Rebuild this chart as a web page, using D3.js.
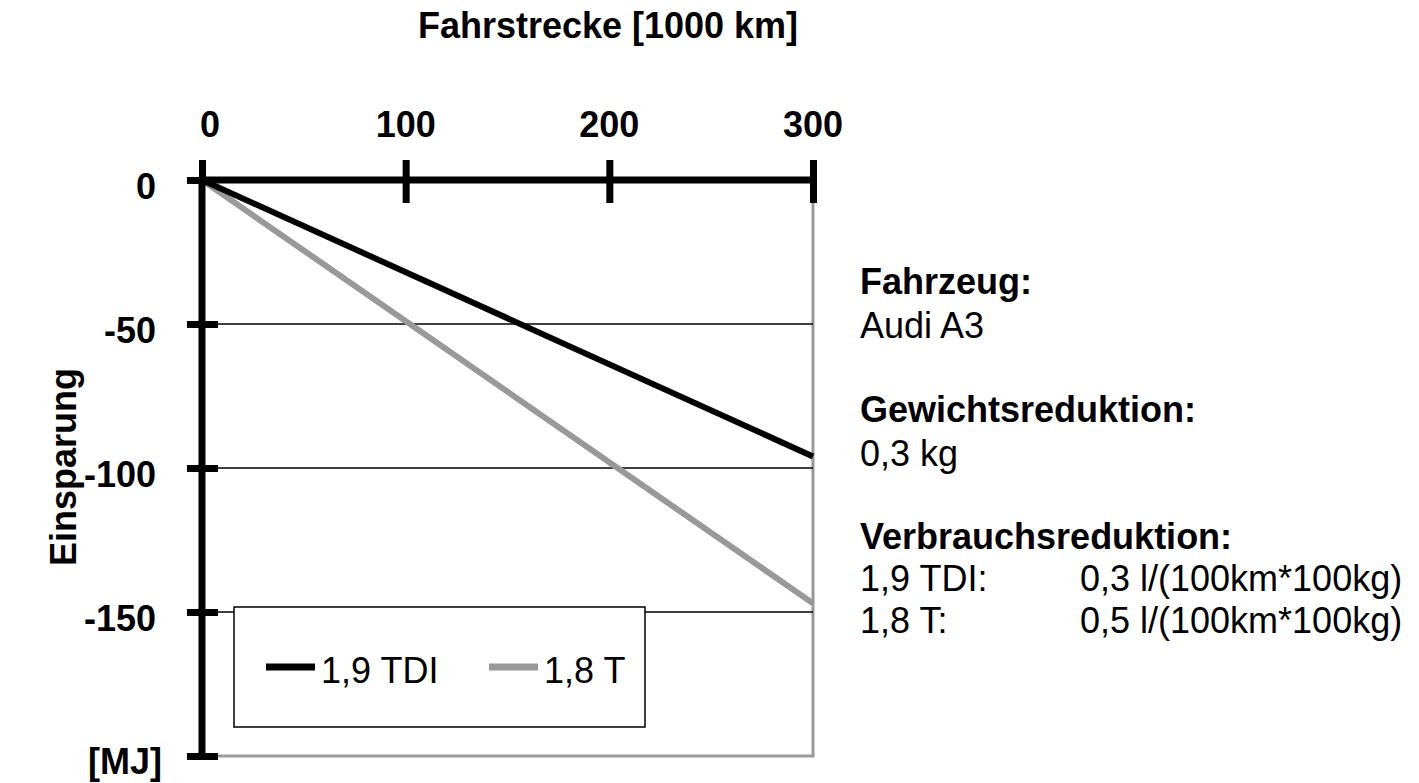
<!DOCTYPE html>
<html>
<head>
<meta charset="utf-8">
<script src="https://cdn.jsdelivr.net/npm/d3@7"></script>
<style>
  body { margin: 0; background: #fff; }
  text { font-family: "Liberation Sans", Arial, sans-serif; }
</style>
</head>
<body>
<script>
// data
var distances = [0, 300];            // 1000 km
var tdiValues = [0, -96];            // MJ
var turboValues = [0, -147];         // MJ
var seriesNames = ["1,9 TDI", "1,8 T"];
var seriesColors = ["#000000", "#999999"];
var xTicks = [0, 100, 200, 300];
var yTicks = [0, -50, -100, -150];

var width = 1419,
    height = 783;

var svg = d3.select("body").append("svg")
    .attr("width", width)
    .attr("height", height);

var x = d3.scaleLinear().domain([0, 300]).range([202, 813]);
var y = d3.scaleLinear().domain([0, -200]).range([180, 756]);

// plot border (grey, right + bottom)
svg.append("path")
    .attr("d", "M" + x(300) + "," + y(0) + "V" + y(-200) + "H" + x(0))
    .attr("fill", "none")
    .attr("stroke", "#999")
    .attr("stroke-width", 3);

// gridlines
svg.selectAll(".grid")
    .data(yTicks.filter(function(d) { return d !== 0; }))
    .enter().append("line")
    .attr("x1", x(0)).attr("x2", x(300))
    .attr("y1", function(d) { return y(d); })
    .attr("y2", function(d) { return y(d); })
    .attr("stroke", "#000")
    .attr("stroke-width", 1.5);

// series lines (grey one underneath)
var series = [tdiValues, turboValues];
var line = d3.line()
    .x(function(d, i) { return x(distances[i]); })
    .y(function(d) { return y(d); });

[1, 0].forEach(function(i) {
  svg.append("path")
      .datum(series[i])
      .attr("d", line)
      .attr("fill", "none")
      .attr("stroke", seriesColors[i])
      .attr("stroke-width", 6);
});

// y axis (left)
var yAxis = d3.axisLeft(y).tickValues(yTicks.concat([-200])).tickFormat("");
var gy = svg.append("g").attr("transform", "translate(" + x(0) + ",0)").call(yAxis);
gy.select(".domain").attr("stroke", "#000").attr("stroke-width", 7).attr("d", "M0," + y(0) + "V" + y(-200));
gy.selectAll(".tick line").attr("x1", -15).attr("x2", 16).attr("stroke", "#000").attr("stroke-width", 7);
gy.selectAll(".tick").filter(function(d) { return d === 0; }).select("line").attr("x2", 0);

// x axis (top)
var xAxis = d3.axisTop(x).tickValues(xTicks).tickFormat("");
var gx = svg.append("g").attr("transform", "translate(0," + y(0) + ")").call(xAxis);
gx.select(".domain").attr("stroke", "#000").attr("stroke-width", 7).attr("d", "M" + x(0) + ",0H" + x(300));
gx.selectAll(".tick line").attr("y1", -20).attr("y2", 23).attr("stroke", "#000").attr("stroke-width", 7);
gx.selectAll(".tick").filter(function(d) { return d === 0; }).select("line").attr("y2", 0);

// tick labels
svg.selectAll(".xlab")
    .data(xTicks)
    .enter().append("text")
    .attr("x", function(d) { return x(d) + (d === 0 ? 8 : 0); })
    .attr("y", 137)
    .attr("text-anchor", "middle")
    .attr("font-size", 36)
    .attr("font-weight", "bold")
    .text(function(d) { return d; });

svg.selectAll(".ylab")
    .data(yTicks)
    .enter().append("text")
    .attr("x", 156)
    .attr("y", function(d) { return y(d) + 19; })
    .attr("text-anchor", "end")
    .attr("font-size", 36)
    .attr("font-weight", "bold")
    .text(function(d) { return d; });

svg.append("text")
    .attr("x", 162).attr("y", 774)
    .attr("text-anchor", "end")
    .attr("font-size", 36)
    .attr("font-weight", "bold")
    .text("[MJ]");

// axis titles
svg.append("text")
    .attr("x", 608).attr("y", 38)
    .attr("text-anchor", "middle")
    .attr("font-size", 36)
    .attr("font-weight", "bold")
    .text("Fahrstrecke [1000 km]");

svg.append("text")
    .attr("transform", "translate(76,467) rotate(-90)")
    .attr("text-anchor", "middle")
    .attr("font-size", 36)
    .attr("font-weight", "bold")
    .text("Einsparung");

// legend
var legend = svg.append("g");
legend.append("rect")
    .attr("x", 234).attr("y", 607)
    .attr("width", 411).attr("height", 120)
    .attr("fill", "#fff")
    .attr("stroke", "#000")
    .attr("stroke-width", 1.5);

var legendX = [266, 489];
seriesNames.forEach(function(name, i) {
  legend.append("line")
      .attr("x1", legendX[i]).attr("x2", legendX[i] + 49)
      .attr("y1", 667).attr("y2", 667)
      .attr("stroke", seriesColors[i])
      .attr("stroke-width", 7);
  legend.append("text")
      .attr("x", legendX[i] + 55).attr("y", 683)
      .attr("font-size", 36)
      .text(name);
});

// info text on the right
var infoLines = [
  { t: "Fahrzeug:", b: true, y: 294 },
  { t: "Audi A3", b: false, y: 338 },
  { t: "Gewichtsreduktion:", b: true, y: 422 },
  { t: "0,3 kg", b: false, y: 466 },
  { t: "Verbrauchsreduktion:", b: true, y: 549 },
  { t: "1,9 TDI:", b: false, y: 591 },
  { t: "1,8 T:", b: false, y: 633 }
];
var infoValues = ["0,3 l/(100km*100kg)", "0,5 l/(100km*100kg)"];

svg.selectAll(".info")
    .data(infoLines)
    .enter().append("text")
    .attr("x", 860)
    .attr("y", function(d) { return d.y; })
    .attr("font-size", 36)
    .attr("font-weight", function(d) { return d.b ? "bold" : "normal"; })
    .text(function(d) { return d.t; });

svg.selectAll(".infoval")
    .data(infoValues)
    .enter().append("text")
    .attr("x", 1080)
    .attr("y", function(d, i) { return 591 + i * 42; })
    .attr("font-size", 36)
    .text(function(d) { return d; });
</script>
</body>
</html>
